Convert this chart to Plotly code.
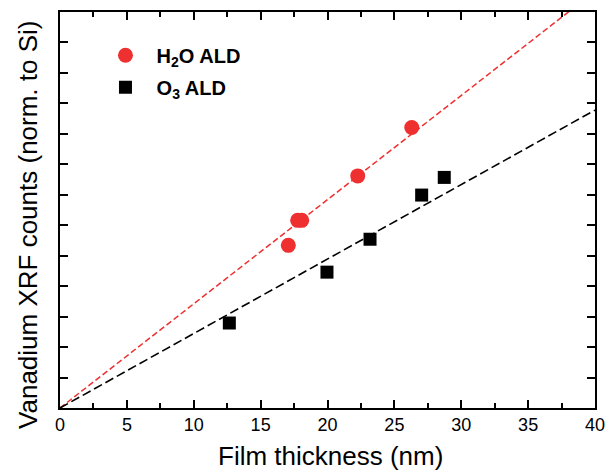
import plotly.graph_objects as go

# Data
h2o_x = [17.07, 17.77, 18.07, 22.26, 26.30]
h2o_y = [5.34, 6.16, 6.16, 7.62, 9.21]
o3_x = [12.66, 19.96, 23.18, 27.04, 28.73]
o3_y = [2.79, 4.46, 5.54, 6.99, 7.57]
h2o_slope = 0.342
o3_slope = 0.2445
fit_x = [0, 40]

FONT = "Liberation Sans"

fig = go.Figure()
fig.add_trace(go.Scatter(x=fit_x, y=[h2o_slope * v for v in fit_x], mode="lines",
                         line=dict(color="#EE3030", width=1.5, dash="6px,3px"),
                         showlegend=False, hoverinfo="skip"))
fig.add_trace(go.Scatter(x=fit_x, y=[o3_slope * v for v in fit_x], mode="lines",
                         line=dict(color="black", width=1.6, dash="9px,4px"),
                         showlegend=False, hoverinfo="skip"))
fig.add_trace(go.Scatter(x=h2o_x, y=h2o_y, mode="markers", legendgroup="a",
                         name="&nbsp;&nbsp;<b>H<sub>2</sub>O ALD</b>",
                         marker=dict(symbol="circle", size=15, color="#EE3030")))
fig.add_trace(go.Scatter(x=o3_x, y=o3_y, mode="markers", legendgroup="b",
                         name="&nbsp;&nbsp;<b>O<sub>3</sub> ALD</b>",
                         marker=dict(symbol="square", size=13, color="black")))

axis_common = dict(showline=True, linecolor="black", linewidth=1.5, mirror="allticks",
                   ticks="inside", tickcolor="black", tickwidth=1.5, showgrid=False,
                   zeroline=False, automargin=False)
fig.update_xaxes(range=[0, 40], dtick=5, ticklen=8,
                 minor=dict(dtick=2.5, ticks="inside", ticklen=5, tickcolor="black", tickwidth=1.5),
                 tickfont=dict(size=18, color="black", family=FONT),
                 **axis_common)
fig.update_yaxes(range=[0, 13], dtick=1, ticklen=8, showticklabels=False,
                 **axis_common)

fig.add_annotation(text="Film thickness (nm)", xref="paper", yref="paper",
                   x=0.505, y=-0.122, xanchor="center", yanchor="middle", showarrow=False,
                   font=dict(size=26, color="black", family=FONT))
fig.add_annotation(text="Vanadium XRF counts (norm. to Si)", xref="paper", yref="paper",
                   x=-0.06, y=0.462, xanchor="center", yanchor="middle", showarrow=False,
                   textangle=-90, font=dict(size=26, color="black", family=FONT))

fig.update_layout(width=609, height=470, margin=dict(l=60, r=14, t=12, b=62),
                  plot_bgcolor="white", paper_bgcolor="white",
                  legend=dict(x=0.085, y=0.94, xanchor="left", yanchor="top",
                              traceorder="grouped", tracegroupgap=3,
                              font=dict(size=20, color="black", family=FONT),
                              bgcolor="rgba(0,0,0,0)"))
fig.write_html("out.html")
